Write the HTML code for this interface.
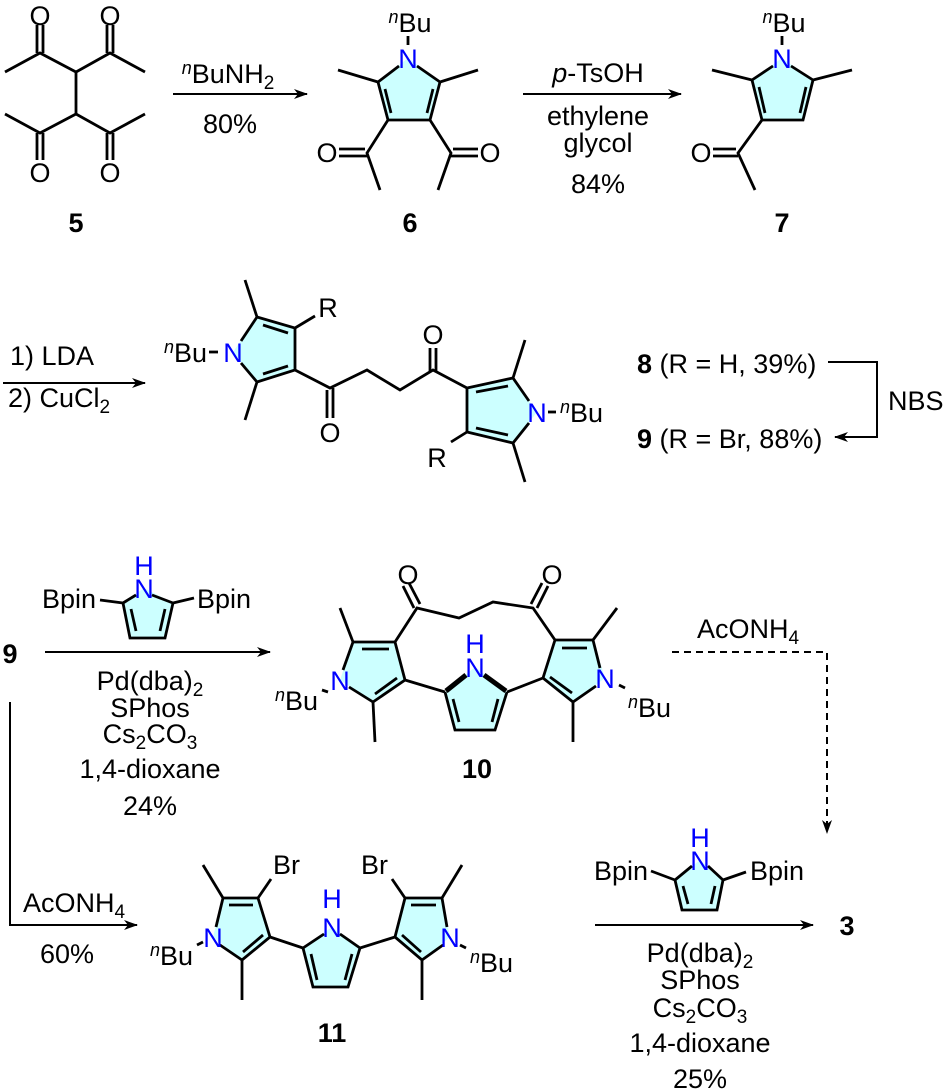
<!DOCTYPE html>
<html><head><meta charset="utf-8"><style>
html,body{margin:0;padding:0;background:#fff;}
svg{display:block;}
text{font-family:"Liberation Sans",Arial,sans-serif;font-size:27px;fill:#000;}
.b{font-weight:bold;}
.n{fill:#0000ff;}
.m{text-anchor:middle;}
.e{text-anchor:end;}
</style></head><body>
<svg width="947" height="1091" viewBox="0 0 947 1091" xmlns="http://www.w3.org/2000/svg">
<defs>
<marker id="ah" markerWidth="14" markerHeight="10" refX="13" refY="5" orient="auto" markerUnits="userSpaceOnUse"><path d="M0,0 L14,5 L0,10 L4,5 Z" fill="#000"/></marker>
</defs>
<g fill="#ccffff" stroke="none">
<polygon points="408,58 378,82 388,120 430,120 440,82"/>
<polygon points="782,58 752,80 762,120 803,120 813,80"/>
<polygon points="233,352 257,317 295,328 295,370 257,382"/>
<polygon points="467,388 513,378 537,412 513,443 467,432"/>
<polygon points="144,588 123,603 130,638 165,638 173,603"/>
<polygon points="340,680 353,642 395,642 405,680 373,702"/>
<polygon points="543,678 555,640 593,640 605,678 573,702"/>
<polygon points="475,667 445,692 455,730 495,730 507,692"/>
<polygon points="213,937 223,898 258,898 270,937 242,960"/>
<polygon points="332,927 303,948 313,987 348,987 360,948"/>
<polygon points="395,937 405,898 442,898 450,937 422,960"/>
<polygon points="700,860 675,880 682,910 717,910 723,880"/>
</g>
<g stroke="#000" stroke-width="2.8" fill="none" stroke-linecap="butt" stroke-linejoin="miter">
<polyline points="5,72 40,53 76,72 110,53 145,72"/>
<polyline points="5,114 40,133 76,114 110,133 145,114"/>
<line x1="76" y1="72" x2="76" y2="114"/>
<line x1="37" y1="25" x2="37" y2="53"/><line x1="43" y1="25" x2="43" y2="53"/>
<line x1="107" y1="25" x2="107" y2="53"/><line x1="113" y1="25" x2="113" y2="53"/>
<line x1="37" y1="133" x2="37" y2="160"/><line x1="43" y1="133" x2="43" y2="160"/>
<line x1="107" y1="133" x2="107" y2="160"/><line x1="113" y1="133" x2="113" y2="160"/>
<line x1="173" y1="94" x2="307" y2="94" stroke-width="2" marker-end="url(#ah)"/>
<line x1="408" y1="36" x2="408" y2="45"/>
<line x1="399" y1="66" x2="378" y2="82"/><line x1="417" y1="66" x2="440" y2="82"/>
<polyline points="378,82 388,120 430,120 440,82"/>
<line x1="385" y1="89" x2="391" y2="113"/><line x1="433" y1="89" x2="427" y2="113"/>
<line x1="378" y1="82" x2="338" y2="70"/><line x1="440" y1="82" x2="478" y2="70"/>
<polyline points="388,120 367,153 380,190"/>
<line x1="339" y1="149" x2="365" y2="149"/><line x1="339" y1="156" x2="367" y2="156"/>
<polyline points="430,120 451,153 438,190"/>
<line x1="453" y1="149" x2="478" y2="149"/><line x1="451" y1="156" x2="478" y2="156"/>
<line x1="523" y1="94" x2="681" y2="94" stroke-width="2" marker-end="url(#ah)"/>
<line x1="782" y1="36" x2="782" y2="45"/>
<line x1="773" y1="66" x2="752" y2="80"/><line x1="791" y1="66" x2="813" y2="80"/>
<polyline points="752,80 762,120 803,120 813,80"/>
<line x1="759" y1="87" x2="765" y2="113"/><line x1="806" y1="87" x2="800" y2="113"/>
<line x1="752" y1="80" x2="712" y2="70"/><line x1="813" y1="80" x2="852" y2="70"/>
<polyline points="762,120 738,153 755,190"/>
<line x1="713" y1="149" x2="736" y2="149"/><line x1="713" y1="156" x2="738" y2="156"/>
<line x1="3" y1="383" x2="145" y2="383" stroke-width="2" marker-end="url(#ah)"/>
<line x1="209" y1="352" x2="218" y2="352"/>
<line x1="241" y1="341" x2="257" y2="317"/><line x1="241" y1="363" x2="257" y2="382"/>
<polyline points="257,317 295,328 295,370 257,382"/>
<line x1="263" y1="325" x2="288" y2="333"/><line x1="288" y1="366" x2="263" y2="374"/>
<line x1="257" y1="317" x2="245" y2="280"/><line x1="257" y1="382" x2="245" y2="420"/>
<line x1="295" y1="328" x2="315" y2="316"/>
<polyline points="295,370 330,388 367,370 400,390 433,370 467,388"/>
<line x1="327" y1="390" x2="327" y2="418"/><line x1="333" y1="388" x2="333" y2="418"/>
<line x1="430" y1="348" x2="430" y2="372"/><line x1="436" y1="348" x2="436" y2="372"/>
<polyline points="467,432 467,388 513,378 529,401"/>
<polyline points="529,423 513,443 467,432"/>
<line x1="476" y1="392" x2="508" y2="386"/><line x1="476" y1="428" x2="508" y2="435"/>
<line x1="513" y1="378" x2="525" y2="340"/><line x1="513" y1="443" x2="525" y2="482"/>
<line x1="467" y1="432" x2="451" y2="442"/>
<line x1="548" y1="412" x2="556" y2="412"/>
<polyline points="828,362 877,362 877,437 835,437" stroke-width="2" marker-end="url(#ah)"/>
<line x1="45" y1="652" x2="270" y2="652" stroke-width="2" marker-end="url(#ah)"/>
<line x1="136" y1="595" x2="123" y2="603"/><line x1="152" y1="595" x2="173" y2="603"/>
<polyline points="123,603 130,638 165,638 173,603"/>
<line x1="131" y1="609" x2="136" y2="631"/><line x1="165" y1="609" x2="160" y2="631"/>
<line x1="100" y1="600" x2="123" y2="603"/><line x1="173" y1="603" x2="194" y2="598"/>
<line x1="343" y1="670" x2="353" y2="642"/><line x1="349" y1="687" x2="373" y2="702"/>
<polyline points="353,642 395,642 405,680 373,702"/>
<line x1="362" y1="649" x2="389" y2="649"/><line x1="397" y1="678" x2="375" y2="694"/>
<line x1="353" y1="642" x2="340" y2="608"/><line x1="373" y1="702" x2="375" y2="742"/>
<line x1="322" y1="690" x2="328" y2="692"/>
<polyline points="395,642 417,608 459,618 493,602 533,608 555,640"/>
<line x1="414" y1="608" x2="403" y2="586"/><line x1="420" y1="604" x2="409" y2="583"/>
<line x1="531" y1="604" x2="542" y2="583"/><line x1="537" y1="608" x2="548" y2="586"/>
<polyline points="543,678 555,640 593,640 600,668"/>
<polyline points="543,678 573,702 596,686"/>
<line x1="562" y1="648" x2="587" y2="648"/><line x1="550" y1="677" x2="572" y2="693"/>
<line x1="593" y1="640" x2="617" y2="608"/><line x1="573" y1="702" x2="573" y2="742"/>
<line x1="619" y1="685" x2="625" y2="688"/>
<line x1="405" y1="680" x2="445" y2="692"/><line x1="507" y1="692" x2="543" y2="678"/>
<polyline points="445,692 455,730 495,730 507,692"/>
<line x1="453" y1="699" x2="459" y2="722"/><line x1="498" y1="699" x2="492" y2="722"/>
<line x1="446" y1="691" x2="466" y2="675" stroke-width="5"/>
<line x1="506" y1="691" x2="484" y2="675" stroke-width="5"/>
<polyline points="672,652 827,652 827,833" stroke-width="2" stroke-dasharray="7,5" marker-end="url(#ah)"/>
<polyline points="10,702 10,925 137,925" stroke-width="2" marker-end="url(#ah)"/>
<line x1="216" y1="927" x2="223" y2="898"/><line x1="220" y1="945" x2="242" y2="960"/>
<polyline points="223,898 258,898 270,937 242,960"/>
<line x1="229" y1="905" x2="253" y2="905"/><line x1="263" y1="935" x2="243" y2="952"/>
<line x1="223" y1="898" x2="203" y2="865"/><line x1="242" y1="960" x2="242" y2="1000"/>
<line x1="258" y1="898" x2="271" y2="879"/>
<line x1="197" y1="945" x2="203" y2="942"/>
<line x1="270" y1="937" x2="303" y2="948"/><line x1="360" y1="948" x2="395" y2="937"/>
<line x1="324" y1="934" x2="303" y2="948"/><line x1="340" y1="934" x2="360" y2="948"/>
<polyline points="303,948 313,987 348,987 360,948"/>
<line x1="311" y1="954" x2="317" y2="980"/><line x1="352" y1="954" x2="345" y2="980"/>
<polyline points="395,937 405,898 442,898 447,927"/>
<polyline points="395,937 422,960 443,945"/>
<line x1="411" y1="905" x2="436" y2="905"/><line x1="402" y1="935" x2="421" y2="952"/>
<line x1="442" y1="898" x2="462" y2="865"/><line x1="422" y1="960" x2="422" y2="1000"/>
<line x1="405" y1="898" x2="392" y2="879"/>
<line x1="460" y1="945" x2="466" y2="948"/>
<line x1="692" y1="866" x2="675" y2="880"/><line x1="708" y1="866" x2="723" y2="880"/>
<polyline points="675,880 682,910 717,910 723,880"/>
<line x1="683" y1="886" x2="688" y2="904"/><line x1="715" y1="886" x2="711" y2="904"/>
<line x1="651" y1="871" x2="675" y2="880"/><line x1="723" y1="880" x2="746" y2="872"/>
<line x1="595" y1="925" x2="813" y2="925" stroke-width="2" marker-end="url(#ah)"/>
</g>
<text x="40" y="25" class="m">O</text><text x="110" y="25" class="m">O</text>
<text x="40" y="182" class="m">O</text><text x="110" y="182" class="m">O</text>
<text x="76" y="232" class="m b">5</text>
<text x="228" y="83" class="m"><tspan font-style="italic" font-size="18" dy="-9">n</tspan><tspan dy="9">BuNH</tspan><tspan font-size="19" dy="6">2</tspan></text>
<text x="230" y="133" class="m">80%</text>
<text x="410" y="32" class="m"><tspan font-style="italic" font-size="18" dy="-9">n</tspan><tspan dy="9">Bu</tspan></text>
<text x="408" y="68" class="m n">N</text>
<text x="327" y="162" class="m">O</text><text x="490" y="162" class="m">O</text>
<text x="410" y="232" class="m b">6</text>
<text x="598" y="82" class="m"><tspan font-style="italic">p</tspan>-TsOH</text>
<text x="598" y="125" class="m">ethylene</text>
<text x="598" y="152" class="m">glycol</text>
<text x="598" y="193" class="m">84%</text>
<text x="784" y="32" class="m"><tspan font-style="italic" font-size="18" dy="-9">n</tspan><tspan dy="9">Bu</tspan></text>
<text x="782" y="68" class="m n">N</text>
<text x="701" y="162" class="m">O</text>
<text x="782" y="232" class="b m">7</text>
<text x="10" y="365">1) LDA</text>
<text x="8" y="407">2) CuCl<tspan font-size="19" dy="6">2</tspan></text>
<text x="207" y="362" class="e"><tspan font-style="italic" font-size="18" dy="-9">n</tspan><tspan dy="9">Bu</tspan></text>
<text x="233" y="362" class="m n">N</text>
<text x="328" y="317" class="m">R</text>
<text x="330" y="442" class="m">O</text>
<text x="433" y="344" class="m">O</text>
<text x="437" y="467" class="m">R</text>
<text x="537" y="422" class="m n">N</text>
<text x="560" y="422"><tspan font-style="italic" font-size="18" dy="-9">n</tspan><tspan dy="9">Bu</tspan></text>
<text x="637" y="373"><tspan font-weight="bold">8</tspan> (R = H, 39%)</text>
<text x="637" y="448"><tspan font-weight="bold">9</tspan> (R = Br, 88%)</text>
<text x="888" y="410">NBS</text>
<text x="10" y="663" class="m b">9</text>
<text x="144" y="575" class="m n">H</text>
<text x="144" y="598" class="m n">N</text>
<text x="96" y="608" class="e">Bpin</text>
<text x="197" y="608">Bpin</text>
<text x="150" y="690" class="m">Pd(dba)<tspan font-size="19" dy="6">2</tspan></text>
<text x="150" y="717" class="m">SPhos</text>
<text x="150" y="743" class="m">Cs<tspan font-size="19" dy="6">2</tspan><tspan dy="-6">CO</tspan><tspan font-size="19" dy="6">3</tspan></text>
<text x="150" y="778" class="m">1,4-dioxane</text>
<text x="150" y="815" class="m">24%</text>
<text x="408" y="584" class="m">O</text>
<text x="552" y="584" class="m">O</text>
<text x="340" y="690" class="m n">N</text>
<text x="318" y="710" class="e"><tspan font-style="italic" font-size="18" dy="-9">n</tspan><tspan dy="9">Bu</tspan></text>
<text x="475" y="653" class="m n">H</text>
<text x="475" y="677" class="m n">N</text>
<text x="605" y="688" class="m n">N</text>
<text x="628" y="717"><tspan font-style="italic" font-size="18" dy="-9">n</tspan><tspan dy="9">Bu</tspan></text>
<text x="477" y="778" class="m b">10</text>
<text x="697" y="638">AcONH<tspan font-size="19" dy="6">4</tspan></text>
<text x="23" y="912">AcONH<tspan font-size="19" dy="6">4</tspan></text>
<text x="67" y="963" class="m">60%</text>
<text x="213" y="947" class="m n">N</text>
<text x="193" y="965" class="e"><tspan font-style="italic" font-size="18" dy="-9">n</tspan><tspan dy="9">Bu</tspan></text>
<text x="273" y="874">Br</text>
<text x="388" y="874" class="e">Br</text>
<text x="332" y="908" class="m n">H</text>
<text x="332" y="937" class="m n">N</text>
<text x="450" y="947" class="m n">N</text>
<text x="470" y="972"><tspan font-style="italic" font-size="18" dy="-9">n</tspan><tspan dy="9">Bu</tspan></text>
<text x="332" y="1042" class="m b">11</text>
<text x="700" y="847" class="m n">H</text>
<text x="700" y="870" class="m n">N</text>
<text x="648" y="880" class="e">Bpin</text>
<text x="750" y="880">Bpin</text>
<text x="847" y="935" class="m b">3</text>
<text x="700" y="962" class="m">Pd(dba)<tspan font-size="19" dy="6">2</tspan></text>
<text x="700" y="989" class="m">SPhos</text>
<text x="700" y="1017" class="m">Cs<tspan font-size="19" dy="6">2</tspan><tspan dy="-6">CO</tspan><tspan font-size="19" dy="6">3</tspan></text>
<text x="700" y="1052" class="m">1,4-dioxane</text>
<text x="700" y="1088" class="m">25%</text>
</svg>
</body></html>
